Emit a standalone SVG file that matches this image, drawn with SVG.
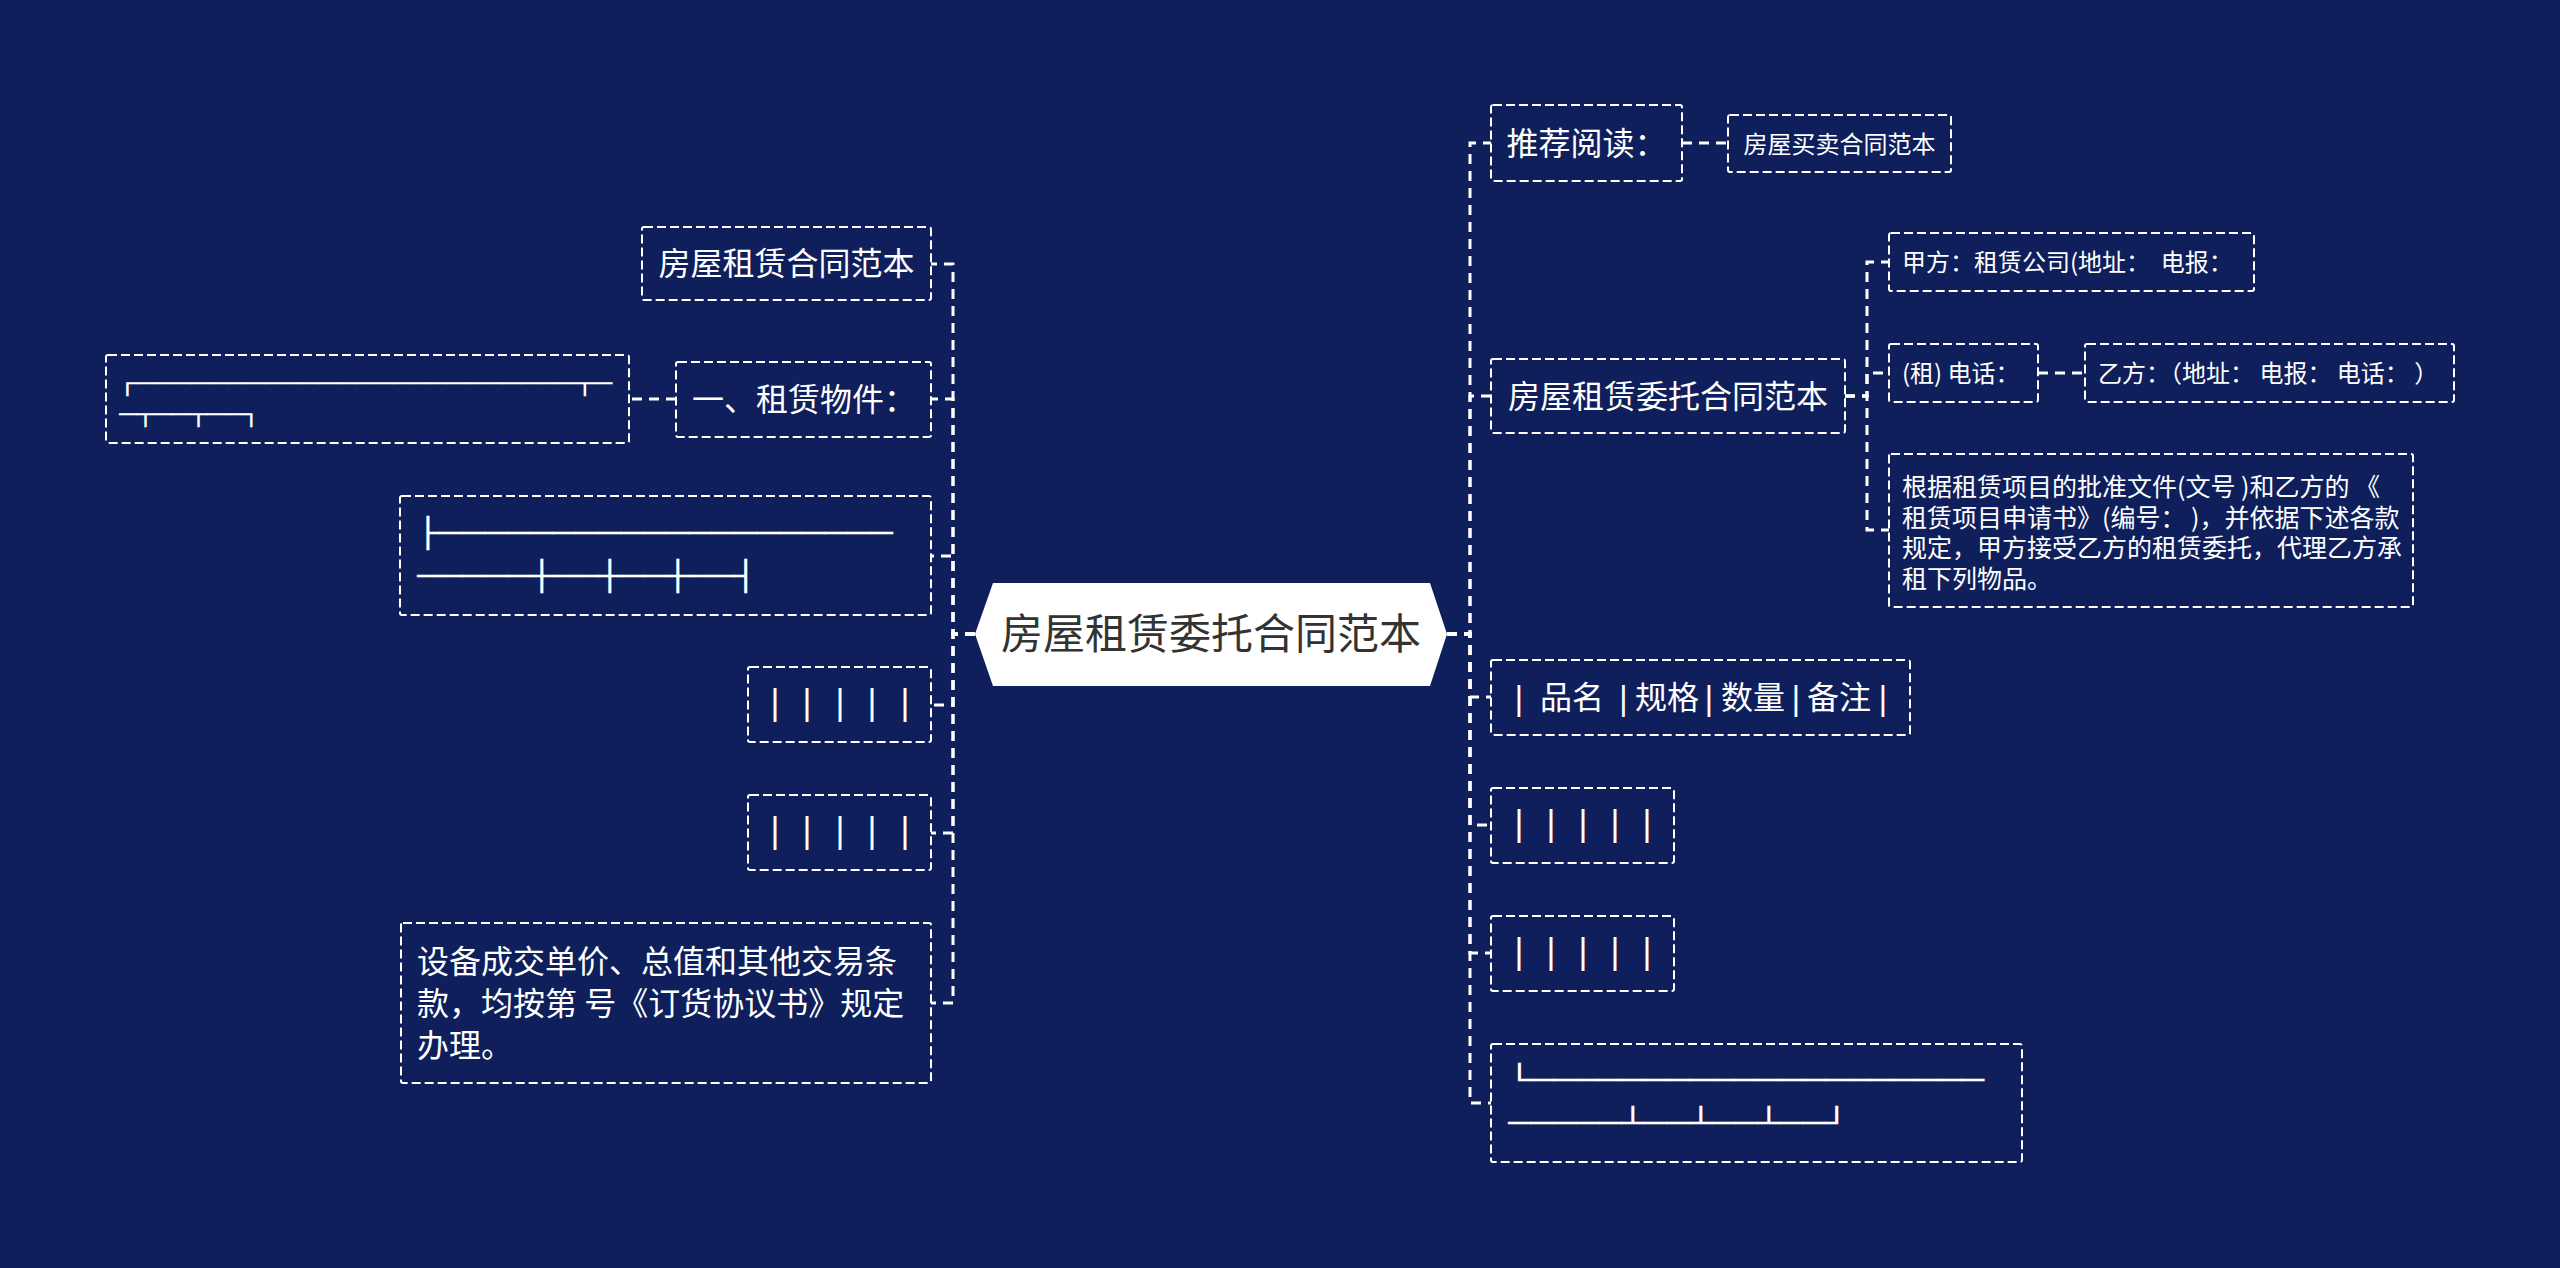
<svg xmlns="http://www.w3.org/2000/svg" width="2560" height="1268" viewBox="0 0 2560 1268">
<style>
.bg{fill:#0f1f5c}
.box{fill:none;stroke:#ffffff;stroke-width:2;stroke-dasharray:9 4}
.conn{fill:none;stroke:#ffffff;stroke-width:3;stroke-dasharray:10 7}
.t{fill:#ffffff;font-family:"Noto Sans CJK SC","Noto Sans",sans-serif}
.f32{font-size:32px}
.f24{font-size:24px}
.f25{font-size:25px}
.bd{fill:#ffffff;font-family:"DejaVu Sans Mono",monospace}
.bar{fill:#ffffff;font-family:"DejaVu Sans","Noto Sans CJK SC",sans-serif}
</style>
<rect class="bg" x="0" y="0" width="2560" height="1268"/>

<g id="connectors">
  <path class="conn" d="M975,634 H953 V264 H931"/>
  <path class="conn" d="M975,634 H953 V399 H931"/>
  <path class="conn" d="M975,634 H953 V556 H931"/>
  <path class="conn" d="M975,634 H953 V705 H931"/>
  <path class="conn" d="M975,634 H953 V833 H931"/>
  <path class="conn" d="M975,634 H953 V1003 H931"/>
  <path class="conn" d="M676,399 H629"/>
  <path class="conn" d="M1447,634 H1470 V143 H1491"/>
  <path class="conn" d="M1447,634 H1470 V396 H1491"/>
  <path class="conn" d="M1447,634 H1470 V697 H1491"/>
  <path class="conn" d="M1447,634 H1470 V825 H1491"/>
  <path class="conn" d="M1447,634 H1470 V953 H1491"/>
  <path class="conn" d="M1447,634 H1470 V1103 H1491"/>
  <path class="conn" d="M1682,143 H1728"/>
  <path class="conn" d="M1845,396 H1867 V262 H1889"/>
  <path class="conn" d="M1845,396 H1867 V373 H1889"/>
  <path class="conn" d="M1845,396 H1867 V530 H1889"/>
  <path class="conn" d="M2038,373 H2085"/>
</g>

<g id="center">
  <polygon points="975,634 993,583 1430,583 1447,634 1430,686 993,686" fill="#ffffff"/>
  <text x="1211" y="649" text-anchor="middle" style="fill:#333333;font-family:'Noto Sans CJK SC',sans-serif;font-size:42px">房屋租赁委托合同范本</text>
</g>

<g id="L1">
  <rect class="box" x="642" y="227" width="289" height="73" rx="2"/>
  <text class="t f32" x="786.5" y="275" text-anchor="middle">房屋租赁合同范本</text>
</g>

<g id="L2">
  <rect class="box" x="676" y="362" width="255" height="75" rx="2"/>
  <text class="t f32" x="804" y="411" text-anchor="middle">一、租赁物件：</text>
</g>

<g id="L2c">
  <rect class="box" x="106" y="355" width="523" height="88" rx="2"/>
  <text class="bd" style="font-size:22px" x="118" y="390.6" textLength="494" lengthAdjust="spacingAndGlyphs">┌────────────────────────┬─</text>
  <text class="bd" style="font-size:22px" x="119" y="421.6" textLength="141" lengthAdjust="spacingAndGlyphs">─┬──┬──┐</text>
</g>

<g id="L3">
  <rect class="box" x="400" y="496" width="531" height="119" rx="2"/>
  <text class="bd" style="font-size:29px" x="416.6" y="543" textLength="476" lengthAdjust="spacingAndGlyphs">├────────────────────</text>
  <text class="bd" style="font-size:29px" x="417" y="586" textLength="340" lengthAdjust="spacingAndGlyphs">─────┼──┼──┼──┤</text>
</g>

<g id="L4">
  <rect class="box" x="748" y="667" width="183" height="75" rx="2"/>
  <text class="bar" style="font-size:34px" x="769.3 786 801.3 818 834.3 850 866.3 882 899.3" y="713.5">| | | | |</text>
</g>

<g id="L5">
  <rect class="box" x="748" y="795" width="183" height="75" rx="2"/>
  <text class="bar" style="font-size:34px" x="769.3 786 801.3 818 834.3 850 866.3 882 899.3" y="841.5">| | | | |</text>
</g>

<g id="L6">
  <rect class="box" x="401" y="923" width="530" height="160" rx="2"/>
  <text class="t f32" x="417" y="972.5">设备成交单价、总值和其他交易条</text>
  <text class="t f32" x="417" y="1014.5">款，均按第 号《订货协议书》规定</text>
  <text class="t f32" x="417" y="1056.5">办理。</text>
</g>

<g id="R1">
  <rect class="box" x="1491" y="105" width="191" height="76" rx="2"/>
  <text class="t f32" x="1586.5" y="154.5" text-anchor="middle">推荐阅读：</text>
</g>

<g id="R1c">
  <rect class="box" x="1728" y="115" width="223" height="57" rx="2"/>
  <text class="t f24" x="1839.5" y="152.5" text-anchor="middle">房屋买卖合同范本</text>
</g>

<g id="R2">
  <rect class="box" x="1491" y="359" width="354" height="74" rx="2"/>
  <text class="t f32" x="1668" y="407.5" text-anchor="middle">房屋租赁委托合同范本</text>
</g>

<g id="R2a">
  <rect class="box" x="1889" y="233" width="365" height="58" rx="2"/>
  <text class="t f24" x="1902" y="271" xml:space="preserve">甲方：租赁公司(地址：  电报：</text>
</g>

<g id="R2b">
  <rect class="box" x="1889" y="344" width="149" height="58" rx="2"/>
  <text class="t f24" x="1902" y="382" xml:space="preserve">(租) 电话：</text>
</g>

<g id="R2bb">
  <rect class="box" x="2085" y="344" width="369" height="58" rx="2"/>
  <text class="t f24" x="2098" y="382" xml:space="preserve">乙方：（地址： 电报： 电话： ）</text>
</g>

<g id="R2c">
  <rect class="box" x="1889" y="454" width="524" height="153" rx="2"/>
  <text class="t f25" x="1902" y="496" xml:space="preserve">根据租赁项目的批准文件(文号 )和乙方的 《</text>
  <text class="t f25" x="1902" y="526.5" xml:space="preserve">租赁项目申请书》(编号： )，并依据下述各款</text>
  <text class="t f25" x="1902" y="557">规定，甲方接受乙方的租赁委托，代理乙方承</text>
  <text class="t f25" x="1902" y="587.5">租下列物品。</text>
</g>

<g id="R3">
  <rect class="box" x="1491" y="660" width="419" height="75" rx="2"/>
  <text class="bar" style="font-size:32px" x="1513.6 1530 1540 1572 1604 1618 1635 1667 1703.6 1721 1753 1790.6 1807 1839 1877.6" y="709">| 品名 |规格|数量|备注|</text>
</g>

<g id="R4">
  <rect class="box" x="1491" y="788" width="183" height="75" rx="2"/>
  <text class="bar" style="font-size:34px" x="1513.3 1530 1545.3 1562 1577.3 1594 1609.3 1626 1641.3" y="834.5">| | | | |</text>
</g>

<g id="R5">
  <rect class="box" x="1491" y="916" width="183" height="75" rx="2"/>
  <text class="bar" style="font-size:34px" x="1513.3 1530 1545.3 1562 1577.3 1594 1609.3 1626 1641.3" y="962.5">| | | | |</text>
</g>

<g id="R6">
  <rect class="box" x="1491" y="1044" width="531" height="118" rx="2"/>
  <text class="bd" style="font-size:29px" x="1508" y="1090" textLength="476" lengthAdjust="spacingAndGlyphs">└────────────────────</text>
  <text class="bd" style="font-size:29px" x="1508" y="1133" textLength="340" lengthAdjust="spacingAndGlyphs">─────┴──┴──┴──┘</text>
</g>
</svg>
